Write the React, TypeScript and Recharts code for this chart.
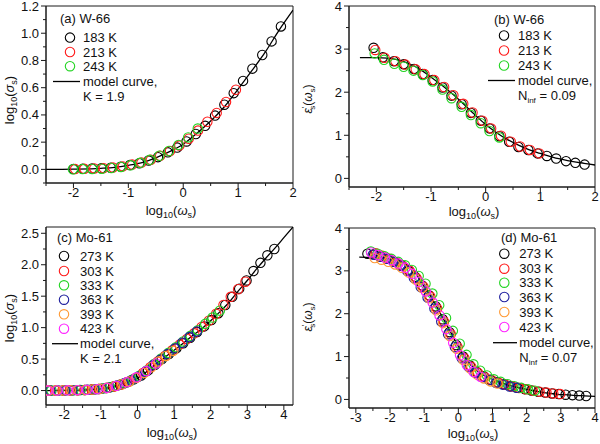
import { ComposedChart, Line, Scatter, XAxis, YAxis, ReferenceArea } from "recharts";

// ---- panel (a): W-66, log10(sigma_s) ----
const aX183 = [-2.0, -1.83, -1.66, -1.49, -1.32, -1.14, -0.97, -0.8, -0.63, -0.46, -0.28, -0.11, 0.06, 0.23, 0.4, 0.58, 0.75, 0.92, 1.09, 1.26, 1.44, 1.61, 1.78];
const aY183 = [0.002, 0.004, 0.006, 0.008, 0.012, 0.02, 0.032, 0.045, 0.065, 0.09, 0.125, 0.16, 0.205, 0.26, 0.32, 0.395, 0.475, 0.56, 0.65, 0.74, 0.84, 0.94, 1.05];
const aX213 = [-1.97, -1.8, -1.62, -1.45, -1.28, -1.1, -0.93, -0.76, -0.59, -0.42, -0.24, -0.07, 0.1, 0.27, 0.44, 0.61, 0.78, 0.96];
const aY213 = [0.002, 0.004, 0.007, 0.009, 0.013, 0.022, 0.035, 0.05, 0.07, 0.1, 0.135, 0.175, 0.225, 0.285, 0.35, 0.415, 0.495, 0.585];
const aX243 = [-2.01, -1.835, -1.66, -1.485, -1.31, -1.135, -0.96, -0.785, -0.61, -0.435, -0.26, -0.085, 0.09, 0.265];
const aY243 = [0.001, 0.002, 0.003, 0.005, 0.01, 0.018, 0.03, 0.048, 0.07, 0.1, 0.135, 0.18, 0.235, 0.3];
const aCurveX = [-2.5, -2, -1.5, -1.25, -1, -0.75, -0.5, -0.25, 0, 0.25, 0.5, 0.75, 1, 1.25, 1.5, 1.75, 2];
const aCurveY = [0, 0.002, 0.008, 0.015, 0.03, 0.05, 0.085, 0.13, 0.185, 0.265, 0.355, 0.46, 0.59, 0.725, 0.865, 1.025, 1.17];

// ---- panel (b): W-66, eps'_s ----
const bX183 = [-2.05, -1.88, -1.68, -1.5, -1.31, -1.15, -0.97, -0.79, -0.625, -0.44, -0.27, -0.09, 0.07, 0.25, 0.43, 0.6, 0.78, 0.95, 1.12, 1.29, 1.47, 1.64, 1.81];
const bY183 = [3.03, 2.81, 2.72, 2.65, 2.54, 2.42, 2.28, 2.11, 1.92, 1.72, 1.52, 1.34, 1.16, 0.98, 0.85, 0.73, 0.66, 0.58, 0.52, 0.46, 0.4, 0.36, 0.32];
const bX213 = [-2.02, -1.85, -1.65, -1.47, -1.28, -1.12, -0.94, -0.76, -0.59, -0.41, -0.24, -0.06, 0.1, 0.28, 0.46, 0.63, 0.81, 0.98];
const bY213 = [2.98, 2.8, 2.72, 2.64, 2.53, 2.42, 2.28, 2.12, 1.93, 1.73, 1.53, 1.34, 1.16, 0.99, 0.85, 0.74, 0.66, 0.58];
const bX243 = [-2.03, -1.86, -1.67, -1.5, -1.32, -1.15, -0.97, -0.79, -0.625, -0.44, -0.27, -0.09, 0.07, 0.25];
const bY243 = [2.9, 2.75, 2.66, 2.59, 2.5, 2.4, 2.25, 2.06, 1.86, 1.66, 1.47, 1.28, 1.1, 0.95];
const bCurveX = [-2.3, -2.0, -1.8, -1.6, -1.4, -1.2, -1.0, -0.8, -0.6, -0.4, -0.2, 0, 0.2, 0.4, 0.6, 0.8, 1.0, 1.2, 1.4, 1.6, 1.8, 2.0];
const bCurveY = [2.8, 2.8, 2.79, 2.75, 2.66, 2.53, 2.35, 2.16, 1.95, 1.72, 1.48, 1.25, 1.06, 0.9, 0.77, 0.66, 0.58, 0.5, 0.44, 0.39, 0.35, 0.31];

// ---- panel (c): Mo-61, log10(sigma_s) ----
const cX273 = [-2.4, -2.21, -2.02, -1.82, -1.63, -1.44, -1.25, -1.06, -0.86, -0.67, -0.48, -0.29, -0.1, 0.1, 0.29, 0.48, 0.67, 0.86, 1.06, 1.25, 1.44, 1.63, 1.82, 2.02, 2.21, 2.4, 2.59, 2.78, 2.98, 3.17, 3.36, 3.55, 3.74];
const cY273 = [0, 0.001, 0.002, 0.004, 0.006, 0.009, 0.015, 0.025, 0.04, 0.06, 0.09, 0.13, 0.18, 0.24, 0.32, 0.41, 0.5, 0.58, 0.67, 0.75, 0.84, 0.93, 1.02, 1.12, 1.23, 1.36, 1.49, 1.62, 1.75, 1.9, 2.03, 2.15, 2.25];
const cX303 = [-2.45, -2.25, -2.05, -1.85, -1.65, -1.45, -1.25, -1.05, -0.85, -0.65, -0.45, -0.25, -0.05, 0.15, 0.35, 0.55, 0.75, 0.95, 1.15, 1.35, 1.55, 1.75, 1.95, 2.15, 2.35, 2.55, 2.75, 2.95];
const cY303 = [0, 0.001, 0.002, 0.004, 0.006, 0.009, 0.015, 0.025, 0.04, 0.065, 0.095, 0.14, 0.2, 0.28, 0.37, 0.46, 0.55, 0.64, 0.73, 0.82, 0.91, 1.01, 1.11, 1.22, 1.36, 1.49, 1.61, 1.73];
const cX333 = [-2.35, -2.15, -1.95, -1.75, -1.55, -1.35, -1.15, -0.95, -0.75, -0.55, -0.35, -0.15, 0.05, 0.25, 0.45, 0.65, 0.85, 1.05, 1.25, 1.45, 1.65, 1.85, 2.05, 2.25];
const cY333 = [0, 0.001, 0.003, 0.005, 0.008, 0.012, 0.02, 0.033, 0.052, 0.08, 0.12, 0.17, 0.235, 0.32, 0.42, 0.51, 0.6, 0.69, 0.78, 0.87, 0.96, 1.06, 1.16, 1.27];
const cX363 = [-2.38, -2.18, -1.98, -1.78, -1.58, -1.38, -1.18, -0.98, -0.78, -0.58, -0.38, -0.18, 0.02, 0.22, 0.42, 0.62, 0.82, 1.02, 1.22, 1.42, 1.62];
const cY363 = [0, 0.001, 0.002, 0.004, 0.007, 0.011, 0.018, 0.03, 0.048, 0.075, 0.11, 0.16, 0.22, 0.3, 0.4, 0.49, 0.58, 0.67, 0.76, 0.85, 0.94];
const cX393 = [-2.42, -2.22, -2.02, -1.82, -1.62, -1.42, -1.22, -1.02, -0.82, -0.62, -0.42, -0.22, -0.02, 0.18, 0.38, 0.58, 0.78, 0.98];
const cY393 = [0, 0.001, 0.002, 0.004, 0.006, 0.01, 0.016, 0.027, 0.043, 0.068, 0.1, 0.145, 0.205, 0.28, 0.37, 0.46, 0.55, 0.63];
const cX423 = [-2.46, -2.19, -1.92, -1.65, -1.38, -1.11, -0.84, -0.57, -0.3, -0.03, 0.24, 0.51];
const cY423 = [0, 0.001, 0.003, 0.006, 0.011, 0.022, 0.042, 0.075, 0.13, 0.21, 0.31, 0.43];
const cCurveX = [-2.5, -2, -1.5, -1.25, -1, -0.75, -0.5, -0.25, 0, 0.25, 0.5, 0.75, 1, 1.25, 1.5, 1.75, 2, 2.25, 2.5, 2.75, 3, 3.25, 3.5, 3.75, 4, 4.25];
const cCurveY = [0, 0.002, 0.008, 0.015, 0.028, 0.05, 0.085, 0.135, 0.2, 0.3, 0.42, 0.53, 0.64, 0.75, 0.87, 0.98, 1.11, 1.25, 1.4, 1.58, 1.75, 1.93, 2.1, 2.26, 2.43, 2.6];

// ---- panel (d): Mo-61, eps'_s ----
const dX273 = [-2.66, -2.46, -2.26, -2.06, -1.86, -1.66, -1.46, -1.26, -1.06, -0.86, -0.66, -0.46, -0.26, -0.06, 0.14, 0.34, 0.54, 0.74, 0.94, 1.14, 1.34, 1.54, 1.74, 1.94, 2.14, 2.34, 2.54, 2.74, 2.94, 3.14, 3.34, 3.54, 3.74];
const dY273 = [3.4, 3.38, 3.33, 3.28, 3.21, 3.13, 3.02, 2.86, 2.66, 2.43, 2.17, 1.87, 1.57, 1.27, 1.0, 0.79, 0.64, 0.54, 0.46, 0.4, 0.355, 0.31, 0.27, 0.24, 0.21, 0.18, 0.16, 0.14, 0.125, 0.11, 0.1, 0.09, 0.08];
const dX303 = [-2.42, -2.22, -2.02, -1.82, -1.62, -1.42, -1.22, -1.02, -0.82, -0.62, -0.42, -0.22, -0.02, 0.18, 0.38, 0.58, 0.78, 0.98, 1.18, 1.38, 1.58, 1.78, 1.98, 2.18, 2.38, 2.58, 2.78, 2.98];
const dY303 = [3.41, 3.35, 3.28, 3.2, 3.11, 3.0, 2.83, 2.63, 2.4, 2.12, 1.82, 1.52, 1.22, 0.96, 0.76, 0.62, 0.52, 0.45, 0.39, 0.345, 0.3, 0.265, 0.235, 0.205, 0.18, 0.16, 0.14, 0.125];
const dX333 = [-2.56, -2.36, -2.16, -1.96, -1.76, -1.56, -1.36, -1.16, -0.96, -0.76, -0.56, -0.36, -0.16, 0.04, 0.24, 0.44, 0.64, 0.84, 1.04, 1.24, 1.44, 1.64, 1.84, 2.04, 2.24];
const dY333 = [3.45, 3.4, 3.34, 3.28, 3.21, 3.13, 3.02, 2.88, 2.7, 2.47, 2.2, 1.9, 1.6, 1.3, 1.04, 0.82, 0.67, 0.56, 0.47, 0.41, 0.355, 0.31, 0.27, 0.235, 0.205];
const dX363 = [-2.5, -2.3, -2.1, -1.9, -1.7, -1.5, -1.3, -1.1, -0.9, -0.7, -0.5, -0.3, -0.1, 0.1, 0.3, 0.5, 0.7, 0.9, 1.1, 1.3, 1.5, 1.7];
const dY363 = [3.38, 3.33, 3.28, 3.21, 3.12, 3.0, 2.83, 2.62, 2.38, 2.12, 1.82, 1.52, 1.22, 0.96, 0.76, 0.62, 0.52, 0.45, 0.39, 0.345, 0.3, 0.27];
const dX393 = [-2.45, -2.25, -2.05, -1.85, -1.65, -1.45, -1.25, -1.05, -0.85, -0.65, -0.45, -0.25, -0.05, 0.15, 0.35, 0.55, 0.75, 0.95, 1.15];
const dY393 = [3.3, 3.26, 3.21, 3.15, 3.07, 2.96, 2.8, 2.6, 2.36, 2.08, 1.78, 1.48, 1.18, 0.92, 0.72, 0.58, 0.49, 0.42, 0.37];
const dX423 = [-2.55, -2.35, -2.15, -1.95, -1.75, -1.55, -1.35, -1.15, -0.95, -0.75, -0.55, -0.35, -0.15, 0.05, 0.25, 0.45, 0.65];
const dY423 = [3.43, 3.37, 3.31, 3.25, 3.17, 3.07, 2.93, 2.74, 2.52, 2.26, 1.96, 1.64, 1.32, 1.03, 0.8, 0.64, 0.53];
const dCurveX = [-2.9, -2.5, -2.1, -1.9, -1.7, -1.5, -1.3, -1.1, -0.9, -0.7, -0.5, -0.3, -0.1, 0.1, 0.3, 0.5, 0.7, 0.9, 1.1, 1.3, 1.5, 1.7, 1.9, 2.1, 2.3, 2.5, 2.7, 2.9, 3.1, 3.3, 3.5, 3.7, 4.0];
const dCurveY = [3.32, 3.31, 3.29, 3.26, 3.22, 3.13, 3.02, 2.75, 2.52, 2.26, 1.97, 1.68, 1.38, 1.1, 0.86, 0.7, 0.58, 0.5, 0.44, 0.38, 0.33, 0.29, 0.25, 0.22, 0.19, 0.16, 0.14, 0.12, 0.11, 0.1, 0.09, 0.085, 0.07];

// ---- ticks ----
const xTicksAB = [-2.5, -2, -1.5, -1, -0.5, 0, 0.5, 1, 1.5, 2];
const xMajorAB = [-2, -1, 0, 1, 2];
const yTicksA = [-0.1, 0, 0.1, 0.2, 0.3, 0.4, 0.5, 0.6, 0.7, 0.8, 0.9, 1.0, 1.1, 1.2];
const yMajorA = [0, 0.2, 0.4, 0.6, 0.8, 1.0, 1.2];
const yTicksBD = [0, 0.5, 1, 1.5, 2, 2.5, 3, 3.5, 4];
const yMajorBD = [0, 1, 2, 3, 4];
const xTicksC = [-2.5, -2, -1.5, -1, -0.5, 0, 0.5, 1, 1.5, 2, 2.5, 3, 3.5, 4];
const xMajorC = [-2, -1, 0, 1, 2, 3, 4];
const yTicksC = [0, 0.25, 0.5, 0.75, 1, 1.25, 1.5, 1.75, 2, 2.25, 2.5];
const yMajorC = [0, 0.5, 1, 1.5, 2, 2.5];
const xTicksD = [-3, -2.5, -2, -1.5, -1, -0.5, 0, 0.5, 1, 1.5, 2, 2.5, 3, 3.5, 4];
const xMajorD = [-3, -2, -1, 0, 1, 2, 3, 4];

const FONT = '"Liberation Sans", Arial, Helvetica, sans-serif';
const AXIS = "#1a1a1a";
const C = { black: "#000000", red: "#ff1a1a", green: "#22d422", blue: "#1f1f9e", orange: "#ff9933", magenta: "#ff22ff" };

type Series = { label: string; color: string; xs: number[]; ys: number[] };
const toPts = (xs: number[], ys: number[]) => xs.map((x, i) => ({ x, y: ys[i] }));
const isIn = (list: number[], v: number) => list.some((m) => Math.abs(m - v) < 1e-9);

const XTick = (p: any) => {
  const v = p.payload.value;
  const major = isIn(p.major, v);
  return (
    <g>
      <line x1={p.x} x2={p.x} y1={p.y} y2={p.y + (major ? 5 : 3)} stroke={AXIS} strokeWidth={1} />
      {major && (
        <text x={p.x} y={p.y + 14} textAnchor="middle" fontSize={13} fontFamily={FONT} fill="#111">
          {String(v)}
        </text>
      )}
    </g>
  );
};

const YTick = (p: any) => {
  const v = p.payload.value;
  const major = isIn(p.major, v);
  return (
    <g>
      <line x1={p.x} x2={p.x - (major ? 5 : 3)} y1={p.y} y2={p.y} stroke={AXIS} strokeWidth={1} />
      {major && (
        <text x={p.x - 7} y={p.y + 4.5} textAnchor="end" fontSize={13} fontFamily={FONT} fill="#111">
          {v.toFixed(p.digits)}
        </text>
      )}
    </g>
  );
};

type PanelProps = {
  left: number;
  top: number;
  plot: [number, number, number, number];
  xDomain: [number, number];
  yDomain: [number, number];
  xTicks: number[];
  xMajor: number[];
  yTicks: number[];
  yMajor: number[];
  yDigits: number;
  curveX: number[];
  curveY: number[];
  series: Series[];
  children?: any;
};

function Panel(props: PanelProps) {
  const [l, t, r, b] = props.plot;
  return (
    <div style={{ position: "absolute", left: props.left, top: props.top, width: 300, height: 222 }}>
      <ComposedChart width={300} height={222} margin={{ top: t, right: 300 - r, bottom: 0, left: 0 }}>
        <XAxis
          type="number"
          dataKey="x"
          domain={props.xDomain}
          ticks={props.xTicks}
          interval={0}
          allowDataOverflow
          height={222 - b}
          tickSize={0}
          tickMargin={0}
          tickLine={false}
          axisLine={{ stroke: AXIS }}
          tick={<XTick major={props.xMajor} />}
        />
        <YAxis
          type="number"
          dataKey="y"
          domain={props.yDomain}
          ticks={props.yTicks}
          interval={0}
          allowDataOverflow
          width={l}
          tickSize={0}
          tickMargin={0}
          tickLine={false}
          axisLine={{ stroke: AXIS }}
          tick={<YTick major={props.yMajor} digits={props.yDigits} />}
        />
        <ReferenceArea
          x1={props.xDomain[0]}
          x2={props.xDomain[1]}
          y1={props.yDomain[0]}
          y2={props.yDomain[1]}
          fill="none"
          fillOpacity={0}
          stroke={AXIS}
          strokeWidth={1}
        />
        <Line
          data={toPts(props.curveX, props.curveY)}
          dataKey="y"
          type="monotone"
          stroke="#000"
          strokeWidth={1.3}
          dot={false}
          isAnimationActive={false}
        />
        {props.series.map((s) => (
          <Scatter
            key={s.label}
            name={s.label}
            data={toPts(s.xs, s.ys)}
            dataKey="y"
            isAnimationActive={false}
            shape={(p: any) => <circle cx={p.cx} cy={p.cy} r={4.7} fill="none" stroke={s.color} strokeWidth={1.1} />}
          />
        ))}
      </ComposedChart>
      <svg width={300} height={222} style={{ position: "absolute", left: 0, top: 0, pointerEvents: "none" }}>
        {props.children}
      </svg>
    </div>
  );
}

const txt = { fontSize: 13, fontFamily: FONT, fill: "#111" };

function Legend({ title, titleX, titleY, markX, textX, rows, lineX, lineY, param }: any) {
  return (
    <g>
      <text x={titleX} y={titleY + 4.5} {...txt}>{title}</text>
      {rows.map((r: any) => (
        <g key={r.label}>
          <circle cx={markX} cy={r.y} r={4.7} fill="none" stroke={r.color} strokeWidth={1.1} />
          <text x={textX} y={r.y + 4.5} {...txt}>{r.label}</text>
        </g>
      ))}
      <line x1={lineX[0]} x2={lineX[1]} y1={lineY} y2={lineY} stroke="#000" strokeWidth={1.3} />
      <text x={textX} y={lineY + 4.5} {...txt}>model curve,</text>
      <text x={textX} y={lineY + 19.5} {...txt}>{param}</text>
    </g>
  );
}

const XTitle = ({ x, y }: { x: number; y: number }) => (
  <text x={x} y={y} textAnchor="middle" {...txt}>
    log<tspan fontSize={9} dy={3}>10</tspan>
    <tspan dy={-3}>(</tspan>
    <tspan fontStyle="italic">ω</tspan>
    <tspan fontSize={9} dy={3}>s</tspan>
    <tspan dy={-3}>)</tspan>
  </text>
);

const SigmaTitle = ({ x, y }: { x: number; y: number }) => (
  <text transform={`translate(${x},${y}) rotate(-90)`} textAnchor="middle" {...txt}>
    log<tspan fontSize={9} dy={3}>10</tspan>
    <tspan dy={-3}>(</tspan>
    <tspan fontStyle="italic">σ</tspan>
    <tspan fontSize={9} dy={3}>s</tspan>
    <tspan dy={-3}>)</tspan>
  </text>
);

const EpsTitle = ({ x, y }: { x: number; y: number }) => (
  <text transform={`translate(${x},${y}) rotate(-90)`} textAnchor="middle" {...txt} fontSize={12}>
    <tspan fontStyle="italic">ε</tspan>
    <tspan fontSize={8} dy={-5}>′</tspan>
    <tspan fontSize={8} dx={-3} dy={8}>s</tspan>
    <tspan dy={-3}>(</tspan>
    <tspan fontStyle="italic">ω</tspan>
    <tspan fontSize={8} dy={3}>s</tspan>
    <tspan dy={-3}>)</tspan>
  </text>
);

const Ninf = ({ v }: { v: string }) => (
  <>
    N<tspan fontSize={8} dy={3}>inf</tspan>
    <tspan dy={-3}> = {v}</tspan>
  </>
);

const seriesA: Series[] = [
  { label: "183 K", color: C.black, xs: aX183, ys: aY183 },
  { label: "213 K", color: C.red, xs: aX213, ys: aY213 },
  { label: "243 K", color: C.green, xs: aX243, ys: aY243 },
];
const seriesB: Series[] = [
  { label: "183 K", color: C.black, xs: bX183, ys: bY183 },
  { label: "213 K", color: C.red, xs: bX213, ys: bY213 },
  { label: "243 K", color: C.green, xs: bX243, ys: bY243 },
];
const seriesC: Series[] = [
  { label: "273 K", color: C.black, xs: cX273, ys: cY273 },
  { label: "303 K", color: C.red, xs: cX303, ys: cY303 },
  { label: "333 K", color: C.green, xs: cX333, ys: cY333 },
  { label: "363 K", color: C.blue, xs: cX363, ys: cY363 },
  { label: "393 K", color: C.orange, xs: cX393, ys: cY393 },
  { label: "423 K", color: C.magenta, xs: cX423, ys: cY423 },
];
const seriesD: Series[] = [
  { label: "273 K", color: C.black, xs: dX273, ys: dY273 },
  { label: "303 K", color: C.red, xs: dX303, ys: dY303 },
  { label: "333 K", color: C.green, xs: dX333, ys: dY333 },
  { label: "363 K", color: C.blue, xs: dX363, ys: dY363 },
  { label: "393 K", color: C.orange, xs: dX393, ys: dY393 },
  { label: "423 K", color: C.magenta, xs: dX423, ys: dY423 },
];

const rowsOf = (s: Series[], ys: number[]) => s.map((x, i) => ({ label: x.label, color: x.color, y: ys[i] }));

export default function App() {
  return (
    <div style={{ position: "absolute", left: 0, top: 0, width: 600, height: 444, background: "#fff" }}>
      <Panel
        left={0}
        top={0}
        plot={[46, 6, 293, 183]}
        xDomain={[-2.5, 2]}
        yDomain={[-0.1, 1.2]}
        xTicks={xTicksAB}
        xMajor={xMajorAB}
        yTicks={yTicksA}
        yMajor={yMajorA}
        yDigits={1}
        curveX={aCurveX}
        curveY={aCurveY}
        series={seriesA}
      >
        <Legend
          title="(a) W-66"
          titleX={60}
          titleY={18}
          markX={70}
          textX={83}
          rows={rowsOf(seriesA, [37.6, 52, 66.2])}
          lineX={[53, 80]}
          lineY={81.5}
          param="K = 1.9"
        />
        <XTitle x={171} y={215} />
        <SigmaTitle x={14} y={100} />
      </Panel>
      <Panel
        left={300}
        top={0}
        plot={[49, 6, 295, 187]}
        xDomain={[-2.5, 2]}
        yDomain={[-0.2, 4]}
        xTicks={xTicksAB}
        xMajor={xMajorAB}
        yTicks={yTicksBD}
        yMajor={yMajorBD}
        yDigits={0}
        curveX={bCurveX}
        curveY={bCurveY}
        series={seriesB}
      >
        <Legend
          title="(b) W-66"
          titleX={194}
          titleY={19}
          markX={204}
          textX={218}
          rows={rowsOf(seriesB, [35.5, 50.5, 65.5])}
          lineX={[188, 215]}
          lineY={80.5}
          param={<Ninf v="0.09" />}
        />
        <XTitle x={174} y={216} />
        <EpsTitle x={12} y={99} />
      </Panel>
      <Panel
        left={0}
        top={222}
        plot={[46, 5, 293, 183]}
        xDomain={[-2.5, 4.25]}
        yDomain={[-0.23, 2.6]}
        xTicks={xTicksC}
        xMajor={xMajorC}
        yTicks={yTicksC}
        yMajor={yMajorC}
        yDigits={1}
        curveX={cCurveX}
        curveY={cCurveY}
        series={seriesC}
      >
        <Legend
          title="(c) Mo-61"
          titleX={57}
          titleY={15}
          markX={64}
          textX={80}
          rows={rowsOf(seriesC, [34, 49, 63.3, 77.7, 92.3, 106.7])}
          lineX={[52, 78]}
          lineY={121.7}
          param="K = 2.1"
        />
        <XTitle x={172} y={215} />
        <SigmaTitle x={14} y={96} />
      </Panel>
      <Panel
        left={300}
        top={222}
        plot={[49, 6, 295, 186]}
        xDomain={[-3.2, 4]}
        yDomain={[-0.2, 4]}
        xTicks={xTicksD}
        xMajor={xMajorD}
        yTicks={yTicksBD}
        yMajor={yMajorBD}
        yDigits={0}
        curveX={dCurveX}
        curveY={dCurveY}
        series={seriesD}
      >
        <Legend
          title="(d) Mo-61"
          titleX={201}
          titleY={15.7}
          markX={204.3}
          textX={219.3}
          rows={rowsOf(seriesD, [31.7, 46.7, 60.7, 75, 90, 105])}
          lineX={[193, 217]}
          lineY={120.7}
          param={<Ninf v="0.07" />}
        />
        <XTitle x={173} y={216} />
        <EpsTitle x={12} y={95} />
      </Panel>
    </div>
  );
}
